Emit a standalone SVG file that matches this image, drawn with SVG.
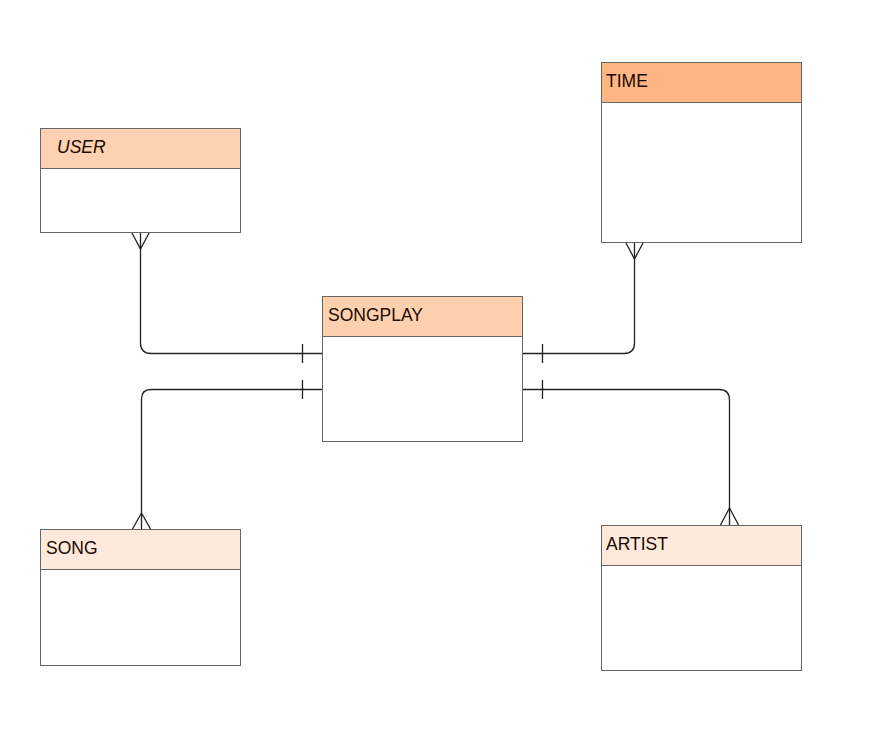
<svg xmlns="http://www.w3.org/2000/svg" width="877" height="746" viewBox="0 0 877 746">
<style>
.box{fill:#fff;stroke:#666;stroke-width:1}
.hd{stroke:#666;stroke-width:1}
.t{font-family:"Liberation Sans",Arial,sans-serif;font-size:17.5px;fill:#1a0a00}
.c{fill:none;stroke:#222;stroke-width:1.3}
</style>
<rect width="877" height="746" fill="#fff"/>
<g id="user">
<rect class="box" x="40.5" y="128.5" width="200" height="104"/>
<rect class="hd" x="40.5" y="128.5" width="200" height="40" fill="#fdd1b1"/>
<text class="t" x="57" y="153" font-style="italic">USER</text>
</g>
<g id="time">
<rect class="box" x="601.5" y="62.5" width="200" height="180"/>
<rect class="hd" x="601.5" y="62.5" width="200" height="40" fill="#fdb683"/>
<text class="t" x="606" y="87">TIME</text>
</g>
<g id="songplay">
<rect class="box" x="322.5" y="296.5" width="200" height="145"/>
<rect class="hd" x="322.5" y="296.5" width="200" height="40" fill="#fed0ae"/>
<text class="t" x="328" y="321">SONGPLAY</text>
</g>
<g id="song">
<rect class="box" x="40.5" y="529.5" width="200" height="136"/>
<rect class="hd" x="40.5" y="529.5" width="200" height="40" fill="#fee9dc"/>
<text class="t" x="46" y="554">SONG</text>
</g>
<g id="artist">
<rect class="box" x="601.5" y="525.5" width="200" height="145"/>
<rect class="hd" x="601.5" y="525.5" width="200" height="40" fill="#fee9dc"/>
<text class="t" x="606" y="550">ARTIST</text>
</g>
<g id="connectors">
<path class="c" d="M140.5 233 V343 Q140.5 353.5 151 353.5 H322"/>
<path class="c" d="M132 233 L140.5 249 L149 233 M302.5 344 V363"/>
<path class="c" d="M634.5 243 V343 Q634.5 353.5 624 353.5 H523"/>
<path class="c" d="M626 243 L634.5 259 L643 243 M542.5 344 V363"/>
<path class="c" d="M322 389.5 H151 Q141.5 389.5 141.5 399 V529"/>
<path class="c" d="M132.5 529 L141.5 513 L150.5 529 M302.5 380 V399"/>
<path class="c" d="M523 389.5 H719 Q729.5 389.5 729.5 400 V525"/>
<path class="c" d="M720.5 525 L729.5 508 L738.5 525 M542.5 380 V399"/>
</g>
</svg>
